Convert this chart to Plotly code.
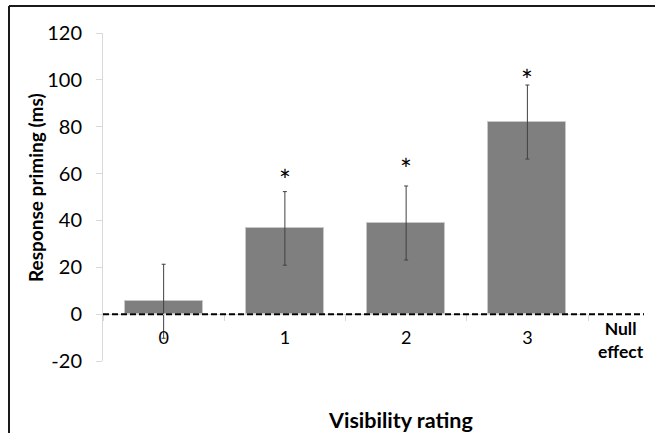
import plotly.graph_objects as go

# ---- data ----
categories = ["0", "1", "2", "3"]
priming_ms = [5.5, 36.6, 38.9, 82.0]
error_ms = [15.8, 15.7, 15.8, 15.8]
star_y = [None, 59.5, 64.2, 102.0]          # height of significance asterisks
null_effect = 0
y_ticks = [-20, 0, 20, 40, 60, 80, 100, 120]
y_tick_labels = ["-20", "0", "20", "40", "60", "80", "100", "120"]

# ---- geometry (pixels in 655x433 canvas) ----
W, H = 655, 433
L, R, T, B = 103, 588, 33, 361
pw, ph = R - L, B - T

def px(x):
    return (x - L) / pw

def py(y):
    return (B - y) / ph

FONT = "Lato, 'Open Sans', sans-serif"

fig = go.Figure()
fig.add_trace(go.Bar(
    x=categories, y=priming_ms, width=0.645,
    marker=dict(color="#7f7f7f", line=dict(color="#c8c8c8", width=1)),
    error_y=dict(type="data", array=error_ms, visible=True,
                 color="#404040", thickness=1, width=2),
    showlegend=False, hoverinfo="skip",
))

y0_frac = (0 - y_ticks[0]) / (y_ticks[-1] - y_ticks[0])

fig.update_layout(
    width=W, height=H,
    margin=dict(l=L, r=W - R, t=T, b=H - B, pad=0),
    paper_bgcolor="white", plot_bgcolor="white",
    font=dict(family=FONT, color="#000000"),
    bargap=0,
    xaxis=dict(
        type="category", categoryorder="array", categoryarray=categories,
        range=[-0.5, 3.5], anchor="free", position=y0_frac,
        showline=True, linecolor="#d9d9d9", linewidth=1,
        ticks="outside", tickson="boundaries", ticklen=6, tickcolor="#d9d9d9",
        tickfont=dict(size=18, family=FONT, color="#000000"),
        ticklabelstandoff=7,
        showgrid=False, zeroline=False, fixedrange=True,
    ),
    yaxis=dict(
        range=[y_ticks[0], y_ticks[-1]], tickvals=y_ticks, ticktext=y_tick_labels,
        showline=True, linecolor="#d9d9d9", linewidth=1,
        ticks="outside", ticklen=6, tickcolor="#d9d9d9",
        tickfont=dict(size=20, family=FONT, color="#000000"),
        ticklabelstandoff=10,
        showgrid=False, zeroline=False, fixedrange=True,
    ),
)

# null-effect dashed line (data y = null_effect), extending past the last category
fig.add_shape(type="line", xref="paper", yref="y",
              x0=0, x1=px(644), y0=null_effect, y1=null_effect,
              line=dict(color="#000000", width=2, dash="6px,3px"), layer="above")

# significance asterisks
for c, s in zip(categories, star_y):
    if s is not None:
        fig.add_annotation(x=c, y=s, xref="x", yref="y", text="*",
                           showarrow=False, yanchor="middle", yshift=-5,
                           font=dict(size=28, family=FONT, color="#000000"))

# Null effect label
fig.add_annotation(x=px(621), y=py(340), xref="paper", yref="paper",
                   text="<b>Null<br>effect</b>", showarrow=False,
                   xanchor="center", yanchor="middle", align="center",
                   font=dict(size=17.5, family=FONT, color="#000000"))

# axis titles
fig.add_annotation(x=px(35), y=py(188), xref="paper", yref="paper",
                   text="<b>Response priming (ms)</b>", textangle=-90,
                   showarrow=False, xanchor="center", yanchor="middle",
                   font=dict(size=19, family=FONT, color="#000000"))
fig.add_annotation(x=px(400), y=py(420), xref="paper", yref="paper",
                   text="<b>Visibility rating</b>", showarrow=False,
                   xanchor="center", yanchor="middle",
                   font=dict(size=21.5, family=FONT, color="#000000"))

# outer frame (top and left edges visible in the reference)
fig.add_shape(type="line", xref="paper", yref="paper",
              x0=px(9), x1=px(W + 5), y0=py(6), y1=py(6),
              line=dict(color="#1a1a1a", width=2))
fig.add_shape(type="line", xref="paper", yref="paper",
              x0=px(9), x1=px(9), y0=py(6), y1=py(H + 5),
              line=dict(color="#1a1a1a", width=2))

fig.write_html("out.html",
               config={"displayModeBar": False},
               post_script="document.body.style.margin='0';"
                           "document.body.style.overflow='hidden';")
